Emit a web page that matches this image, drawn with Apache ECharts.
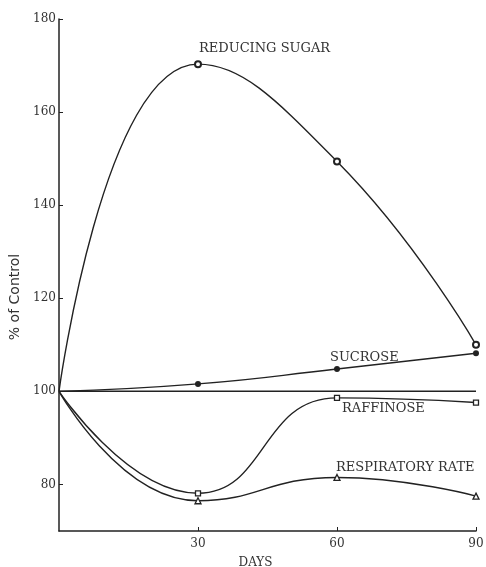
<!DOCTYPE html>
<html>
<head>
<meta charset="utf-8">
<script src="https://cdn.jsdelivr.net/npm/echarts@6/dist/echarts.min.js"></script>
<style>
html,body{margin:0;padding:0;background:#fff;}
#c{width:486px;height:567px;}
</style>
</head>
<body>
<div id="c"></div>
<script>
var days = [0, 30, 60, 90];
var reducingSugar = [100, 170.3, 149.4, 110.0];
var sucrose = [100, 101.6, 104.8, 108.2];
var raffinose = [100, 78.1, 98.6, 97.6];
var respiratoryRate = [100, 76.5, 81.5, 77.5];
var control = [100, 100];
var controlDays = [0, 90];
var yTicks = [80, 100, 120, 140, 160, 180];
var xTicks = [30, 60, 90];

var INK = '#222';
var TXT = '#333';
var FONT = 'DejaVu Serif';

function build(values, labelIdx, labelCfg) {
  return days.map(function (d, i) {
    var item = { value: [d, values[i]] };
    if (i === 0) item.symbol = 'none';
    if (i === labelIdx) item.label = labelCfg;
    return item;
  });
}

function lbl(text, pos, offset) {
  return {
    show: true, formatter: text, position: pos, align: 'left',
    offset: offset, color: TXT, fontFamily: FONT, fontSize: 13
  };
}

var chart = echarts.init(document.getElementById('c'));
chart.setOption({
  animation: false,
  grid: { left: 59, right: 10, top: 19, bottom: 36, outerBoundsMode: 'none', containLabel: false },
  xAxis: {
    type: 'value', min: 0, max: 90,
    name: 'DAYS', nameLocation: 'middle', nameGap: 26,
    nameTextStyle: { color: TXT, fontFamily: FONT, fontSize: 12, padding: [0, 24, 0, 0] },
    axisLine: { lineStyle: { color: INK, width: 1.5 } },
    axisTick: { inside: true, length: 4, customValues: xTicks, lineStyle: { color: INK } },
    axisLabel: { customValues: xTicks, color: TXT, fontFamily: FONT, fontSize: 12, margin: 7 },
    splitLine: { show: false }
  },
  yAxis: {
    type: 'value', min: 70, max: 180,
    name: '% of Control', nameLocation: 'middle', nameGap: 34, nameRotate: 90,
    nameTextStyle: { color: TXT, fontFamily: 'DejaVu Sans', fontSize: 14, padding: [0, 44, 0, 0] },
    axisLine: { show: true, lineStyle: { color: INK, width: 1.5 } },
    axisTick: { show: true, inside: true, length: 4, customValues: yTicks, lineStyle: { color: INK } },
    axisLabel: { customValues: yTicks, color: TXT, fontFamily: FONT, fontSize: 12, margin: 3 },
    splitLine: { show: false }
  },
  series: [
    {
      type: 'line', name: 'control', symbol: 'none',
      data: controlDays.map(function (d, i) { return [d, control[i]]; }),
      lineStyle: { color: INK, width: 1.5 }
    },
    {
      type: 'line', name: 'REDUCING SUGAR', smooth: 0.5,
      symbol: 'emptyCircle', symbolSize: 6,
      itemStyle: { color: INK, borderWidth: 1.5 },
      lineStyle: { color: INK, width: 1.4 },
      data: build(reducingSugar, 1, lbl('REDUCING SUGAR', 'top', [1, 0]))
    },
    {
      type: 'line', name: 'SUCROSE', smooth: 0.5,
      symbol: 'circle', symbolSize: 6,
      itemStyle: { color: INK },
      lineStyle: { color: INK, width: 1.4 },
      data: build(sucrose, 2, lbl('SUCROSE', 'top', [-7, 3]))
    },
    {
      type: 'line', name: 'RAFFINOSE', smooth: 0.5,
      symbol: 'rect', symbolSize: 5,
      itemStyle: { color: '#fff', borderColor: INK, borderWidth: 1.3 },
      lineStyle: { color: INK, width: 1.4 },
      data: build(raffinose, 2, lbl('RAFFINOSE', 'bottom', [5, -4]))
    },
    {
      type: 'line', name: 'RESPIRATORY RATE', smooth: 0.5,
      symbol: 'triangle', symbolSize: 6,
      itemStyle: { color: '#fff', borderColor: INK, borderWidth: 1.3 },
      lineStyle: { color: INK, width: 1.4 },
      data: build(respiratoryRate, 2, lbl('RESPIRATORY RATE', 'top', [-1, 5]))
    }
  ]
});
</script>
</body>
</html>
